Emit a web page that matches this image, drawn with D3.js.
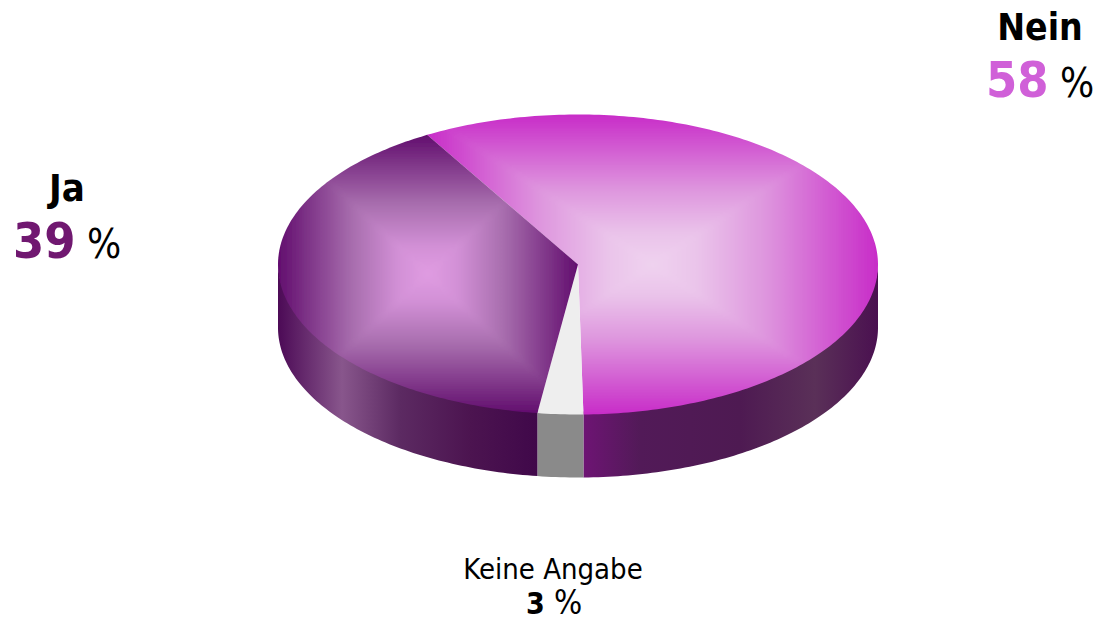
<!DOCTYPE html>
<html><head><meta charset="utf-8">
<script src="https://cdn.jsdelivr.net/npm/d3@7/dist/d3.min.js"></script>
<style>html,body{margin:0;background:#fff}svg{display:block}
text{font-family:"DejaVu Sans Condensed","DejaVu Sans",sans-serif;font-stretch:condensed}</style></head>
<body><svg id="c" width="1099" height="617"></svg>
<script>
const categories = ["Nein", "Keine Angabe", "Ja"];
const percentLabels = [58, 3, 39];
// slice sweep as drawn in the picture (per cent of the circle)
const drawnShares = [58.1, 2.45, 39.45];
const numberColors = ["#d060d8", "#000000", "#701870"];
const topEdge = ["#c82cc8", "#eeeeee", "#620e6e"];
const topMid = ["#de96de", "#eeeeee", "#a86eae"];
const topInner = ["#eac4ea", "#eeeeee", "#d290d6"];
const topCentre = ["#efd2ef", "#eeeeee", "#e09ce2"];
const sideStops = [
  [[583,"#6e1474"],[640,"#521a58"],[740,"#4e1a52"],[815,"#5a3058"],[878,"#4a1050"]],
  [[537,"#8a8a8a"],[583,"#8a8a8a"]],
  [[278,"#4c0a56"],[342,"#88568c"],[400,"#5c2a62"],[470,"#4c1450"],[537,"#40084a"]]
];

const svg = d3.select("#c"), defs = svg.append("defs");
const x = d3.scaleLinear().domain([-1,1]).range([278,878]);
const y = d3.scaleLinear().domain([-1,1]).range([114.5,414.5]);
const depth = 63;
const TAU = 2*Math.PI;
const startA = 329.8*Math.PI/180;
const arcs = d3.pie().sort(null).value(d=>d).startAngle(startA).endAngle(startA+TAU)(drawnShares);
const pt = (a,r=1)=>[x(r*Math.sin(a)), y(-r*Math.cos(a))];
const line = d3.line();
const samples = (a0,a1)=>{const n=Math.max(2,Math.ceil(Math.abs(a1-a0)*60));
  return d3.range(n+1).map(i=>a0+(a1-a0)*i/n);};

defs.append("filter").attr("id","soft").attr("x","-10%").attr("y","-10%").attr("width","120%").attr("height","120%")
  .append("feGaussianBlur").attr("stdDeviation",3);

// side walls: the visible front of the disc runs from 90deg to 270deg clockwise from the top
arcs.forEach((d,i)=>{
  const a0=Math.max(d.startAngle,TAU+Math.PI/2), a1=Math.min(d.endAngle,TAU+Math.PI*1.5);
  if(a1<=a0) return;
  const rim=samples(a0,a1).map(a=>pt(a));
  // the upper edge tucks under the top face so no pale seam shows between them
  const pts=rim.map(p=>[p[0],p[1]-3]).concat(rim.slice().reverse().map(p=>[p[0],p[1]+depth]));
  const id="side"+i, st=sideStops[i];
  const x0=st[0][0],x1=st[st.length-1][0];
  const g=defs.append("linearGradient").attr("id",id).attr("gradientUnits","userSpaceOnUse")
    .attr("x1",x0).attr("x2",x1).attr("y1",0).attr("y2",0);
  st.forEach(s=>g.append("stop").attr("offset",(s[0]-x0)/(x1-x0)).attr("stop-color",s[1]));
  svg.append("path").attr("d",line(pts)+"Z").attr("fill",`url(#${id})`);
});

// top faces: a rectangular gradient over each slice's bounding box
arcs.forEach((d,i)=>{
  const outline=[pt(0,0)].concat(samples(d.startAngle,d.endAngle).map(a=>pt(a)));
  const bx0=d3.min(outline,p=>p[0]),bx1=d3.max(outline,p=>p[0]);
  const by0=d3.min(outline,p=>p[1]),by1=d3.max(outline,p=>p[1]);
  const cxx=(bx0+bx1)/2,cyy=(by0+by1)/2;
  const clip="clip"+i;
  defs.append("clipPath").attr("id",clip).append("path").attr("d",line(outline)+"Z");
  const outer=svg.append("g").attr("clip-path",`url(#${clip})`);
  const g=outer.append("g").attr("filter","url(#soft)");
  const m=1.15; // push the triangles past the box so the blur has no pale rim
  const ex=(p)=>[cxx+(p[0]-cxx)*m, cyy+(p[1]-cyy)*m];
  const faces=[
    {n:"t",v:[[bx0,by0],[bx1,by0]],g:[cxx,by0,cxx,cyy]},
    {n:"b",v:[[bx0,by1],[bx1,by1]],g:[cxx,by1,cxx,cyy]},
    {n:"l",v:[[bx0,by0],[bx0,by1]],g:[bx0,cyy,cxx,cyy]},
    {n:"r",v:[[bx1,by0],[bx1,by1]],g:[bx1,cyy,cxx,cyy]}
  ];
  faces.forEach(f=>{
    const id=`face${i}${f.n}`;
    const lg=defs.append("linearGradient").attr("id",id).attr("gradientUnits","userSpaceOnUse")
      .attr("x1",f.g[0]).attr("y1",f.g[1]).attr("x2",f.g[2]).attr("y2",f.g[3]);
    [[0,topEdge[i]],[0.5,topMid[i]],[0.8,topInner[i]],[1,topCentre[i]]].forEach(s=>
      lg.append("stop").attr("offset",s[0]).attr("stop-color",s[1]));
    g.append("path").attr("d",line([ex(f.v[0]),ex(f.v[1]),[cxx,cyy]])+"Z").attr("fill",`url(#${id})`)
      .attr("stroke",`url(#${id})`).attr("stroke-width",0.8);
  });
});

// labels
const put=(t,px,py,size,weight,fill,anchor)=>svg.append("text").text(t).attr("x",px).attr("y",py)
  .attr("font-size",size).attr("font-weight",weight).attr("fill",fill).attr("text-anchor",anchor||"start");
put(categories[0],1040,40,37,"bold","#000","middle");
put(percentLabels[0],986,97,50,"bold",numberColors[0]);
put("%",1060,97,40,"normal","#000");
put(categories[2],67,201,38,"bold","#000","middle");
put(percentLabels[2],13,258,50,"bold",numberColors[2]);
put("%",87,258,40,"normal","#000");
put(categories[1],553,579,29,"normal","#000","middle");
put(percentLabels[1],526,614,30,"bold",numberColors[1]);
put("%",554,614,33,"normal","#000");
</script></body></html>
